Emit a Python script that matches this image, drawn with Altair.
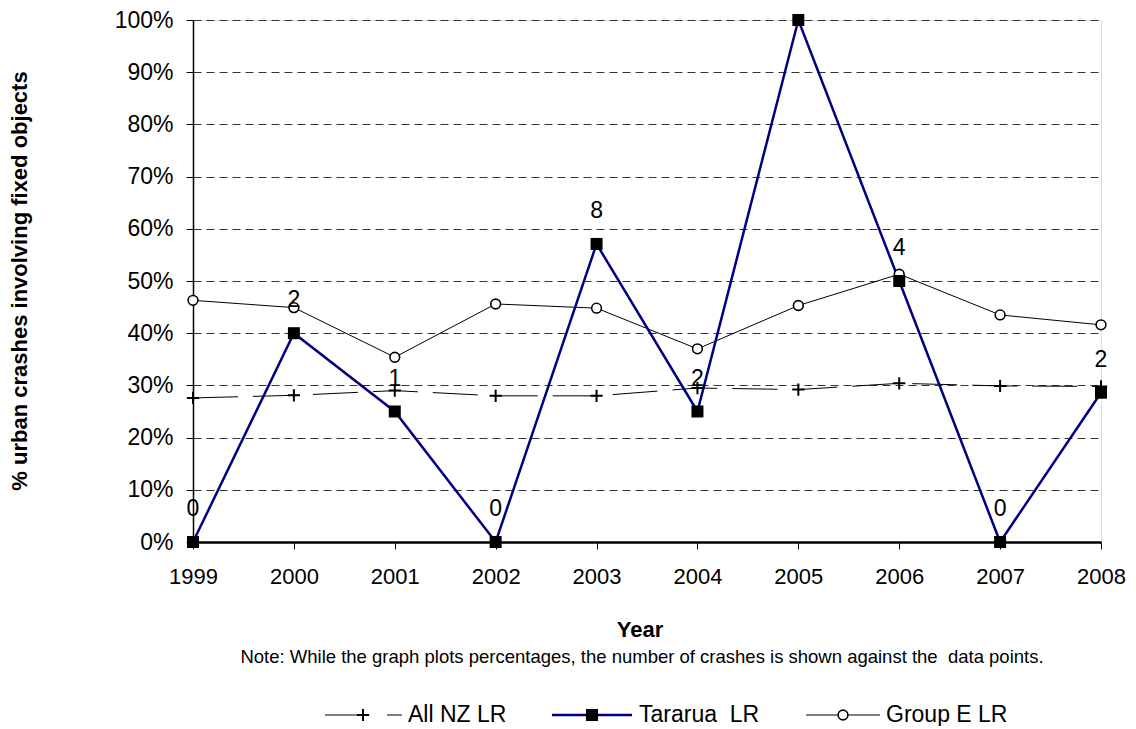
import altair as alt
import pandas as pd

years = [1999, 2000, 2001, 2002, 2003, 2004, 2005, 2006, 2007, 2008]
all_nz = [0.276, 0.281, 0.290, 0.280, 0.280, 0.295, 0.292, 0.304, 0.299, 0.298]
tararua = [0.0, 0.40, 0.25, 0.0, 0.571, 0.25, 1.0, 0.50, 0.0, 0.286]
group_e = [0.463, 0.449, 0.354, 0.456, 0.448, 0.370, 0.453, 0.513, 0.435, 0.416]
tararua_counts = ["0", "2", "1", "0", "8", "2", "", "4", "0", "2"]
series_names = ["All NZ LR", "Tararua\u00a0 LR", "Group E LR"]
y_ticks = [0, 0.1, 0.2, 0.3, 0.4, 0.5, 0.6, 0.7, 0.8, 0.9, 1.0]
y_title = "% urban crashes involving fixed objects"
x_title = "Year"
note = "Note: While the graph plots percentages, the number of crashes is shown against the\u00a0 data points."

FONT = "Liberation Sans"
NAVY = "#000080"

df = pd.DataFrame({"year": years, "all_nz": all_nz, "tararua": tararua,
                   "group_e": group_e, "count": tararua_counts})

W, H = 908, 522

x_enc = alt.X("year:Q",
              scale=alt.Scale(domain=[1999, 2008], nice=False, zero=False),
              axis=alt.Axis(values=years, format="d", title=None, grid=False,
                            tickSize=7, tickColor="black", labelPadding=17,
                            labelFlush=False, labelOverlap=False, labelBound=False,
                            labelFontSize=22, labelColor="black", labelFont=FONT,
                            domainColor="black", domainWidth=2.5))
y_axis = alt.Axis(values=y_ticks, format=".0%", title=None, grid=True,
                  gridDash=[8, 5], gridColor="#333333", gridWidth=1,
                  tickSize=7, tickColor="black", labelPadding=13,
                  labelFlush=False, labelOverlap=False,
                  labelFontSize=23, labelColor="black", labelFont=FONT,
                  domainColor="black", domainWidth=1.5)
y_scale = alt.Scale(domain=[0, 1], nice=False)


def yenc(col):
    return alt.Y(f"{col}:Q", scale=y_scale, axis=y_axis)


base = alt.Chart(df)

group_line = base.mark_line(color="black", strokeWidth=1).encode(x=x_enc, y=yenc("group_e"))
nz_line = base.mark_line(color="black", strokeWidth=1, strokeDash=[45, 15]).encode(
    x=x_enc, y=yenc("all_nz"))
tar_line = base.mark_line(color=NAVY, strokeWidth=2.5).encode(x=x_enc, y=yenc("tararua"))

PLUS = "M-1,0H1M0,-1V1"

group_pts = base.mark_point(shape="circle", size=95, filled=True, fill="white",
                            stroke="black", strokeWidth=1.6, opacity=1).encode(
    x=x_enc, y=yenc("group_e"))
nz_pts = base.mark_point(shape=PLUS, size=150, filled=False, stroke="black",
                         strokeWidth=2, opacity=1).encode(x=x_enc, y=yenc("all_nz"))
tar_pts = base.mark_point(shape="square", size=144, filled=True, color="black",
                          opacity=1).encode(x=x_enc, y=yenc("tararua"))

labels = base.transform_filter(alt.datum["count"] != "").mark_text(
    font=FONT, fontSize=23, color="black", baseline="middle", align="center", dy=-33
).encode(x=x_enc, y=yenc("tararua"), text="count:N")

# titles and note
ytitle = alt.Chart(pd.DataFrame({"t": [y_title]})).mark_text(
    font=FONT, fontSize=22, fontWeight="bold", angle=270,
    align="center", baseline="middle", color="black").encode(
    x=alt.value(-173), y=alt.value(H / 2), text="t:N")
xtitle = alt.Chart(pd.DataFrame({"t": [x_title]})).mark_text(
    font=FONT, fontSize=22, fontWeight="bold", align="center", baseline="middle",
    color="black").encode(x=alt.value(447), y=alt.value(610), text="t:N")
note_txt = alt.Chart(pd.DataFrame({"t": [note]})).mark_text(
    font=FONT, fontSize=18.5, align="center", baseline="middle", color="black").encode(
    x=alt.value(449), y=alt.value(637), text="t:N")

# legend
LY = 695
leg_layers = []
leg_specs = [
    (series_names[0], [(132, 165), (194, 209)], 170, 215, "black", 1, "plus"),
    (series_names[1], [(359, 439)], 399, 446, NAVY, 2.5, "square"),
    (series_names[2], [(613, 687)], 650, 693, "black", 1, "circle"),
]
for name, segs, sx, tx, col, sw, mk in leg_specs:
    d = alt.Chart(pd.DataFrame({"name": [name]}))
    for a, b in segs:
        leg_layers.append(d.mark_rule(color=col, strokeWidth=sw).encode(
            x=alt.value(a), x2=alt.value(b), y=alt.value(LY)))
    if mk == "plus":
        leg_layers.append(d.mark_point(shape=PLUS, size=150, filled=False, stroke="black",
                                       strokeWidth=2, opacity=1).encode(
            x=alt.value(sx), y=alt.value(LY)))
    elif mk == "square":
        leg_layers.append(d.mark_point(shape="square", size=144, filled=True, color="black",
                                       opacity=1).encode(x=alt.value(sx), y=alt.value(LY)))
    else:
        leg_layers.append(d.mark_point(shape="circle", size=95, filled=True, fill="white",
                                       stroke="black", strokeWidth=1.6, opacity=1).encode(
            x=alt.value(sx), y=alt.value(LY)))
    leg_layers.append(d.mark_text(font=FONT, fontSize=23, align="left", baseline="middle",
                                  color="black").encode(
        x=alt.value(tx), y=alt.value(LY), text="name:N"))

chart = alt.layer(group_line, nz_line, tar_line, group_pts, nz_pts, tar_pts, labels,
                  ytitle, xtitle, note_txt, *leg_layers).properties(
    width=W, height=H,
    padding={"left": 185, "top": 12, "right": 27, "bottom": 184},
    autosize=alt.AutoSizeParams(type="none"),
).configure_view(stroke="#808080", strokeWidth=1).configure(font=FONT)

chart.save("out.html", embed_options={"renderer": "svg", "actions": False})
